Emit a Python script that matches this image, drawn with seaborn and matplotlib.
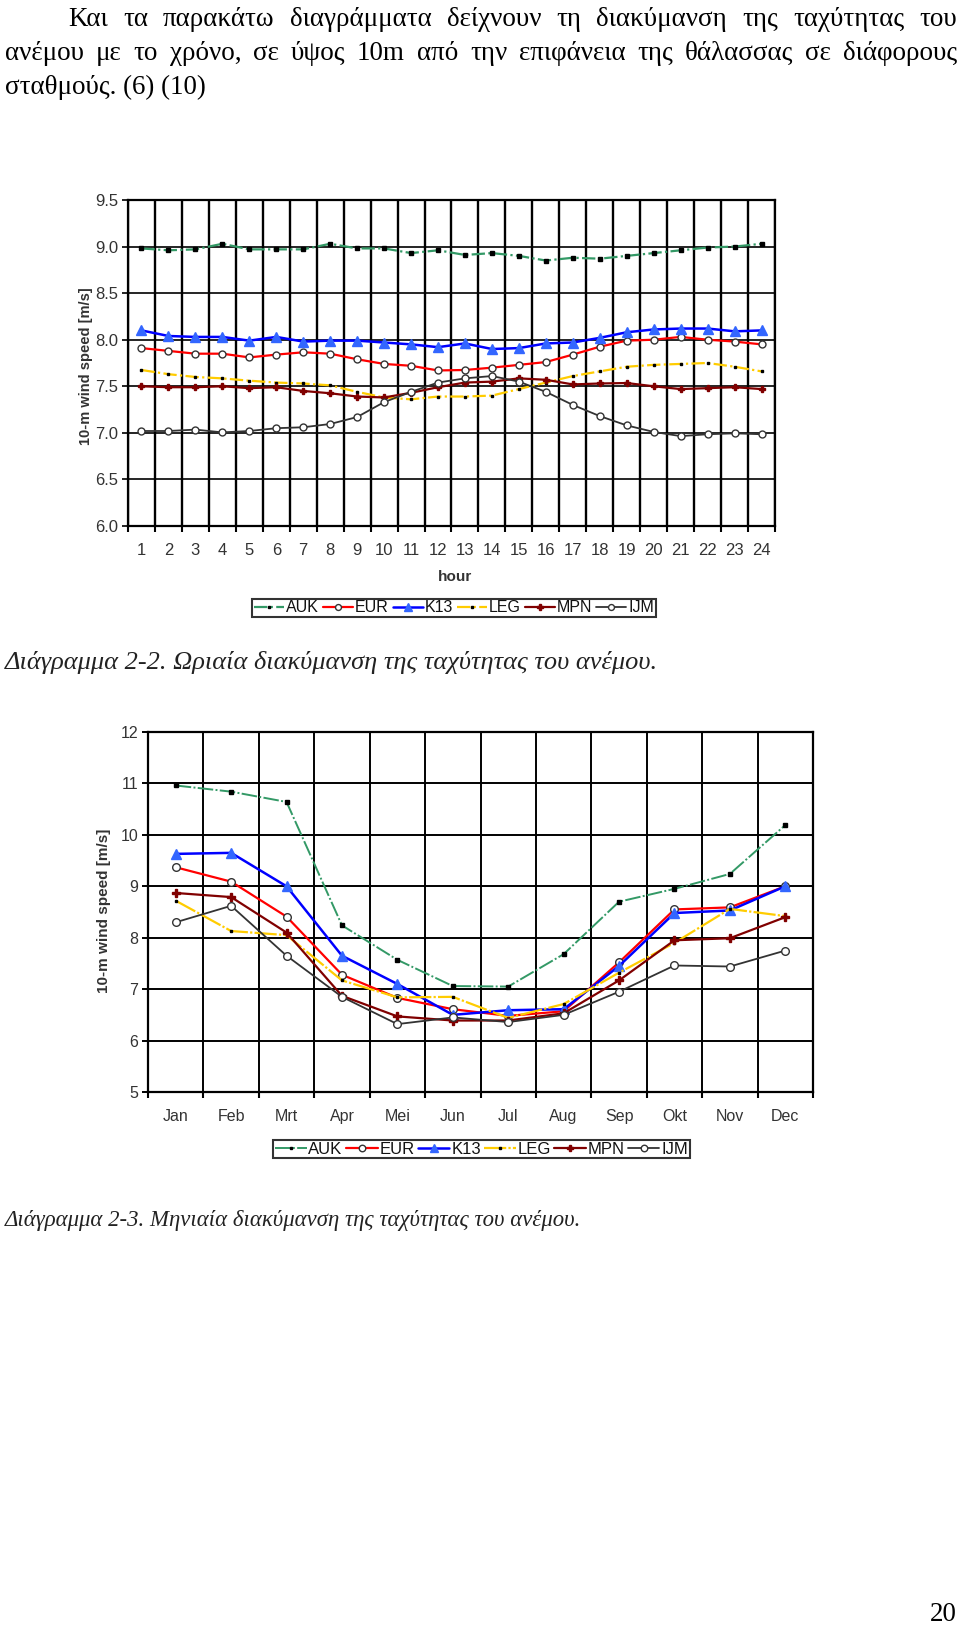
import numpy as np
import pandas as pd
import matplotlib
matplotlib.use("Agg")
import matplotlib.pyplot as plt
import seaborn as sns
from matplotlib.lines import Line2D

# ---------------- data ----------------
stations = ["AUK", "EUR", "K13", "LEG", "MPN", "IJM"]

hours = list(range(1, 25))
hourly_AUK = [8.98, 8.96, 8.97, 9.03, 8.97, 8.97, 8.97, 9.03, 8.98, 8.98, 8.93, 8.96,
              8.91, 8.93, 8.90, 8.85, 8.88, 8.87, 8.90, 8.93, 8.96, 8.99, 9.00, 9.03]
hourly_EUR = [7.91, 7.88, 7.85, 7.85, 7.81, 7.84, 7.865, 7.85, 7.79, 7.74, 7.72, 7.67,
              7.675, 7.70, 7.73, 7.76, 7.84, 7.925, 7.99, 8.00, 8.03, 8.00, 7.98, 7.95]
hourly_K13 = [8.10, 8.04, 8.03, 8.03, 7.99, 8.03, 7.98, 7.99, 7.99, 7.97, 7.95, 7.92,
              7.96, 7.90, 7.91, 7.96, 7.97, 8.02, 8.08, 8.11, 8.12, 8.12, 8.09, 8.10]
hourly_LEG = [7.675, 7.63, 7.60, 7.585, 7.56, 7.54, 7.53, 7.51, 7.44, 7.38, 7.36, 7.39,
              7.39, 7.40, 7.47, 7.54, 7.61, 7.66, 7.71, 7.73, 7.74, 7.75, 7.71, 7.66]
hourly_MPN = [7.50, 7.49, 7.49, 7.50, 7.48, 7.49, 7.45, 7.425, 7.39, 7.38, 7.43, 7.49,
              7.54, 7.55, 7.585, 7.57, 7.52, 7.53, 7.535, 7.50, 7.47, 7.48, 7.49, 7.47]
hourly_IJM = [7.02, 7.02, 7.035, 7.005, 7.02, 7.05, 7.06, 7.095, 7.17, 7.33, 7.44, 7.54,
              7.585, 7.61, 7.55, 7.44, 7.30, 7.18, 7.08, 7.01, 6.965, 6.985, 6.995, 6.985]

months = ["Jan", "Feb", "Mrt", "Apr", "Mei", "Jun", "Jul", "Aug", "Sep", "Okt", "Nov", "Dec"]
monthly_AUK = [10.96, 10.84, 10.64, 8.24, 7.57, 7.06, 7.05, 7.68, 8.70, 8.95, 9.24, 10.19]
monthly_EUR = [9.37, 9.09, 8.41, 7.28, 6.83, 6.61, 6.48, 6.57, 7.52, 8.55, 8.59, 9.00]
monthly_K13 = [9.63, 9.65, 9.00, 7.65, 7.10, 6.50, 6.59, 6.61, 7.45, 8.48, 8.53, 9.00]
monthly_LEG = [8.72, 8.13, 8.05, 7.17, 6.84, 6.85, 6.44, 6.71, 7.32, 7.90, 8.56, 8.42]
monthly_MPN = [8.87, 8.79, 8.10, 6.87, 6.47, 6.39, 6.39, 6.53, 7.17, 7.95, 7.99, 8.40]
monthly_IJM = [8.30, 8.62, 7.65, 6.85, 6.32, 6.45, 6.36, 6.50, 6.95, 7.46, 7.44, 7.75]

hourly = {"AUK": hourly_AUK, "EUR": hourly_EUR, "K13": hourly_K13,
          "LEG": hourly_LEG, "MPN": hourly_MPN, "IJM": hourly_IJM}
monthly = {"AUK": monthly_AUK, "EUR": monthly_EUR, "K13": monthly_K13,
           "LEG": monthly_LEG, "MPN": monthly_MPN, "IJM": monthly_IJM}

para_lines = ["Και τα παρακάτω διαγράμματα δείχνουν τη διακύμανση της ταχύτητας του",
              "ανέμου με το χρόνο, σε ύψος 10m από την επιφάνεια της θάλασσας σε διάφορους",
              "σταθμούς. (6) (10)"]
caption1 = "Διάγραμμα 2-2. Ωριαία διακύμανση της ταχύτητας του ανέμου."
caption2 = "Διάγραμμα 2-3. Μηνιαία διακύμανση της ταχύτητας του ανέμου."
page_no = "20"

# ---------------- style ----------------
sns.set_theme(style="ticks")
plt.rcParams["font.family"] = ["Liberation Sans", "DejaVu Sans"]

W, H = 960, 1629
fig = plt.figure(figsize=(W / 100, H / 100), dpi=100)
fig.patch.set_facecolor("white")

def fx(x):
    return x / W

def fy(y):
    return 1 - y / H

styles_top = {
    "AUK": dict(color="#339966", lw=1.6, ls=(0, (6, 1.5, 1, 1.5)), marker="s", ms=2.2, mfc="black", mec="black"),
    "EUR": dict(color="#ff0000", lw=1.6, ls="-", marker="o", ms=5, mfc="white", mec="#333333"),
    "K13": dict(color="#0000ff", lw=1.8, ls="-", marker="^", ms=7, mfc="#3366ff", mec="#3366ff"),
    "LEG": dict(color="#ffcc00", lw=1.6, ls=(0, (6, 1.5, 1, 1.5)), marker="s", ms=1.8, mfc="black", mec="black"),
    "MPN": dict(color="#800000", lw=1.6, ls="-", marker="P", ms=5, mfc="#800000", mec="#800000"),
    "IJM": dict(color="#333333", lw=1.3, ls="-", marker="o", ms=5, mfc="white", mec="#333333"),
}
styles_bot = {
    "AUK": dict(color="#339966", lw=1.4, ls=(0, (8, 1.2, 1, 1.2)), marker="s", ms=2.2, mfc="black", mec="black"),
    "EUR": dict(color="#ff0000", lw=1.6, ls="-", marker="o", ms=5.5, mfc="white", mec="#333333"),
    "K13": dict(color="#0000ff", lw=1.8, ls="-", marker="^", ms=7.5, mfc="#3366ff", mec="#3366ff"),
    "LEG": dict(color="#ffcc00", lw=1.6, ls=(0, (10, 1, 1, 1)), marker="s", ms=1.8, mfc="black", mec="black"),
    "MPN": dict(color="#800000", lw=1.6, ls="-", marker="P", ms=5.5, mfc="#800000", mec="#800000"),
    "IJM": dict(color="#333333", lw=1.3, ls="-", marker="o", ms=5.5, mfc="white", mec="#333333"),
}

TICK_COLOR = "#333333"


def draw_series(ax, xvals, data, styles):
    for st in stations:
        s = styles[st]
        df = pd.DataFrame({"x": xvals, "y": data[st]})
        sns.lineplot(data=df, x="x", y="y", ax=ax, errorbar=None, legend=False,
                     color=s["color"], linewidth=s["lw"], linestyle=s["ls"],
                     marker=s["marker"], markersize=s["ms"],
                     markerfacecolor=s["mfc"], markeredgecolor=s["mec"],
                     markeredgewidth=1.0)


def style_axes(ax, n, ymin, ymax, ystep, fmt, vlw, hlw, labels, fs):
    ax.set_xlim(0.5, n + 0.5)
    ax.set_ylim(ymin, ymax)
    ax.set_xticks(range(1, n + 1))
    ax.set_xticklabels(labels)
    ax.set_xticks(np.arange(0.5, n + 1, 1), minor=True)
    yt = np.arange(ymin, ymax + 1e-9, ystep)
    ax.set_yticks(yt)
    ax.set_yticklabels([fmt.format(v) for v in yt])
    ax.grid(False)
    ax.xaxis.grid(True, which="minor", color="black", linewidth=vlw)
    ax.yaxis.grid(True, which="major", color="black", linewidth=hlw)
    ax.set_axisbelow(True)
    ax.tick_params(axis="x", which="major", length=0, pad=12, labelsize=fs, labelcolor=TICK_COLOR, bottom=True)
    ax.tick_params(axis="x", which="minor", length=4, width=1.5, color="black", direction="out", bottom=True)
    ax.tick_params(axis="y", which="major", length=4, width=hlw, color="black", direction="out",
                   pad=3, labelsize=fs, labelcolor=TICK_COLOR, left=True)
    for sp in ax.spines.values():
        sp.set_visible(True)
        sp.set_color("black")
        sp.set_linewidth(1.6)
    ax.set_xlabel("")
    ax.set_ylabel("")
    ax.set_facecolor("white")


def make_legend(styles, cx, cy, fs, colsp, hl):
    handles = []
    for st in stations:
        s = styles[st]
        handles.append(Line2D([0], [0], color=s["color"], lw=s["lw"], ls=s["ls"], marker=s["marker"],
                              ms=s["ms"] * 0.85, mfc=s["mfc"], mec=s["mec"], mew=1.0))
    leg = fig.legend(handles, stations, loc="center", bbox_to_anchor=(fx(cx), fy(cy)),
                     ncol=6, fontsize=fs, frameon=True, fancybox=False, shadow=False,
                     handlelength=hl, handletextpad=0.1, columnspacing=colsp,
                     borderpad=0.1, borderaxespad=0, labelspacing=0)
    fr = leg.get_frame()
    fr.set_edgecolor("black")
    fr.set_linewidth(1.5)
    fr.set_facecolor("white")
    for t in leg.get_texts():
        t.set_color("#111111")
    return leg

# ---------------- top chart (hourly) ----------------
ax1 = fig.add_axes([fx(128), fy(526), fx(775) - fx(128), fy(200) - fy(526)])
draw_series(ax1, hours, hourly, styles_top)
style_axes(ax1, 24, 6.0, 9.5, 0.5, "{:.1f}", 1.7, 1.2, [str(h) for h in hours], 12)
ax1.text(fx(455), fy(577), "hour", transform=fig.transFigure, ha="center", va="center",
         fontsize=11, fontweight="bold", color="#333333")
ax1.text(fx(86), fy(366), "10-m wind speed [m/s]", transform=fig.transFigure, rotation=90,
         ha="center", va="center", fontsize=10.5, fontweight="bold", color="#333333")
make_legend(styles_top, 454, 608, 11.5, 0.25, 1.9)

# ---------------- bottom chart (monthly) ----------------
ax2 = fig.add_axes([fx(148), fy(1092), fx(813) - fx(148), fy(732) - fy(1092)])
draw_series(ax2, list(range(1, 13)), monthly, styles_bot)
style_axes(ax2, 12, 5, 12, 1, "{:.0f}", 1.4, 1.4, months, 11.5)
ax2.text(fx(104), fy(911), "10-m wind speed [m/s]", transform=fig.transFigure, rotation=90,
         ha="center", va="center", fontsize=11, fontweight="bold", color="#333333")
make_legend(styles_bot, 481.5, 1149, 12, 0.2, 1.9)

# ---------------- document text ----------------
renderer = fig.canvas.get_renderer()
SERIF = ["Liberation Serif", "DejaVu Serif"]


def text_width(s, size, style="normal"):
    t = fig.text(0, 0, s, fontsize=size, family=SERIF, style=style)
    w = t.get_window_extent(renderer=renderer).width
    t.remove()
    return w


def fit_size(s, target_w, style="normal"):
    w = text_width(s, 10, style)
    return 10 * target_w / w


para_size = fit_size(para_lines[2], 201)


def justified(line, x0, x1, ybase, size):
    words = line.split(" ")
    widths = [text_width(w, size) for w in words]
    gap = (x1 - x0 - sum(widths)) / (len(words) - 1)
    x = x0
    for w, wd in zip(words, widths):
        fig.text(fx(x), fy(ybase), w, fontsize=size, family=SERIF, ha="left", va="baseline", color="black")
        x += wd + gap


justified(para_lines[0], 68, 957, 26, para_size)
justified(para_lines[1], 5, 957, 60, para_size)
fig.text(fx(5), fy(94), para_lines[2], fontsize=para_size, family=SERIF, ha="left", va="baseline", color="black")

c1 = fit_size(caption1, 652, "italic")
fig.text(fx(5), fy(669), caption1, fontsize=c1, family=SERIF, style="italic", ha="left", va="baseline", color="#222222")
c2 = fit_size(caption2, 577, "italic")
fig.text(fx(5), fy(1226), caption2, fontsize=c2, family=SERIF, style="italic", ha="left", va="baseline", color="#222222")

fig.text(fx(957), fy(1621), page_no, fontsize=para_size, family=SERIF, ha="right", va="baseline", color="black")

fig.savefig("out.png", dpi=100, facecolor="white")
